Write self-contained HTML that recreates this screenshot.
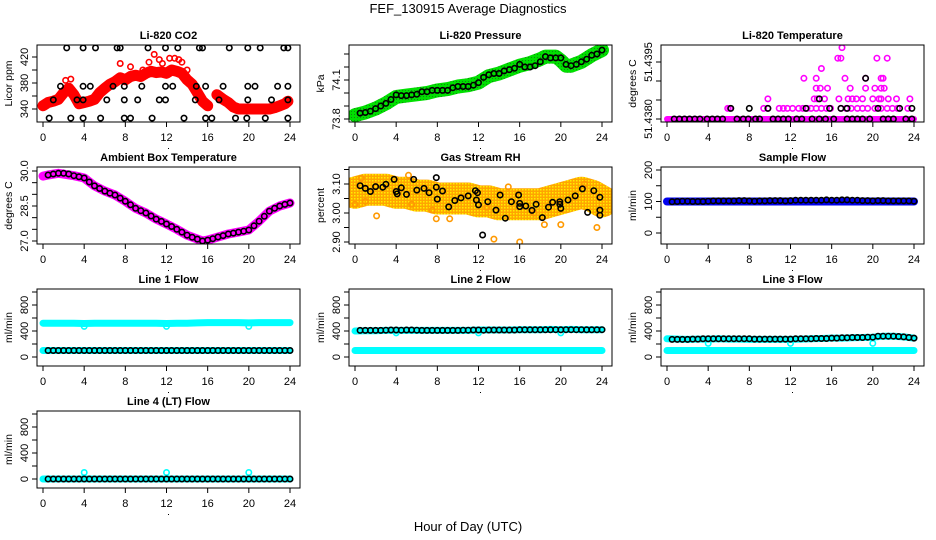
<!DOCTYPE html>
<html><head><meta charset="utf-8">
<style>
html,body{margin:0;padding:0;background:#fff;}
svg{display:block;font-family:"Liberation Sans",sans-serif;}
</style></head>
<body>
<svg id="chart" width="936" height="540" viewBox="0 0 936 540">
<defs>
<pattern id="rhdots" width="3" height="3" patternUnits="userSpaceOnUse"><rect width="3" height="3" fill="#ffa500"/><rect width="1.5" height="1.5" fill="#ffee00"/></pattern>
<pattern id="grdots" width="3" height="3" patternUnits="userSpaceOnUse"><rect width="3" height="3" fill="#00e000"/><rect width="1" height="1" fill="#118811"/></pattern>
</defs>
<text x="468" y="13" text-anchor="middle" font-size="13">FEF_130915  Average Diagnostics</text>
<text x="468" y="531" text-anchor="middle" font-size="13">Hour of Day (UTC)</text>
</svg>
<script>
// ---------- data ----------
const xTicks = [0,4,8,12,16,20,24];
const halfHourTimes = [0.5,1,1.5,2,2.5,3,3.5,4,4.5,5,5.5,6,6.5,7,7.5,8,8.5,9,9.5,10,10.5,11,11.5,12,12.5,13,13.5,14,14.5,15,15.5,16,16.5,17,17.5,18,18.5,19,19.5,20,20.5,21,21.5,22,22.5,23,23.5,24];
const hourTimes = [0,1,2,3,4,5,6,7,8,9,10,11,12,13,14,15,16,17,18,19,20,21,22,23,24];

// CO2
const co2RedTimes = [0,0.5,1,1.5,2,2.5,3,3.5,4,4.5,5,5.5,6,6.5,7,7.5,8,8.5,9,9.5,10,10.5,11,11.5,12,12.5,13,13.5,14,14.5,15,15.5,16,null,16.9,17.5,18,18.5,19,19.5,20,20.5,21,21.5,22,22.5,23,23.5,23.8];
const co2RedValues = [345,350,352,355,365,372,362,348,350,352,355,365,372,378,382,388,385,390,392,390,395,398,396,397,395,400,398,395,385,378,365,352,345,null,362,355,350,343,340,340,340,340,340,340,340,342,345,348,352];
const co2OutTimes = [7.5,8.5,10.3,10.8,11.3,11.6,12.3,12.8,13.2,13.5,14.0,9.7,2.7,2.2];
const co2OutValues = [410,405,412,424,416,410,418,418,416,412,400,400,386,384];
const co2BlackTimes = [0.6,2.7,3.9,5.6,7.9,8.5,10.6,13.7,15.8,16.4,18.7,19.8,21.6,23.8, 1.0,3.3,3.9,6.2,7.9,9.2,11.3,11.9,14.8,17.1,19.9,22.2,23.8, 1.7,3.9,4.6,6.8,7.9,9.6,11.9,12.6,14.9,15.8,17.5,19.9,20.6,22.8,23.8, 2.3,3.9,5.1,7.2,7.5,10.2,11.9,13.1,15.2,15.5,18.1,19.9,21.1,23.4,23.8];
const co2BlackValues = [326,326,326,326,326,326,326,326,326,326,326,326,326,326, 354,354,354,354,354,354,354,354,354,354,354,354,354, 375,375,375,375,375,375,375,375,375,375,375,375,375,375,375, 434,434,434,434,434,434,434,434,434,434,434,434,434,434,434];

// Pressure
const presTimes = [0,1,2,3,4,5,6,7,8,9,10,11,12,13,14,15,16,17,18,18.5,19,19.5,20,20.5,21,22,23,24];
const presValues = [73.83,73.85,73.88,73.92,73.97,73.98,73.99,74.00,74.02,74.03,74.05,74.06,74.08,74.13,74.15,74.18,74.21,74.23,74.26,74.28,74.28,74.28,74.25,74.21,74.21,74.24,74.29,74.33];
const presBlack = [73.845,73.85,73.86,73.88,73.90,73.92,73.95,73.985,73.98,73.98,73.985,73.99,74.01,74.01,74.02,74.02,74.02,74.02,74.04,74.05,74.05,74.05,74.06,74.08,74.12,74.14,74.15,74.15,74.17,74.18,74.19,74.22,74.20,74.20,74.21,74.24,74.28,74.27,74.27,74.27,74.22,74.21,74.22,74.24,74.26,74.29,74.30,74.33];

// Li-820 temperature
const tempMagTimes = [5.9,6.1,9.4,9.8,10.9,11.3,11.7,12.2,12.8,13.2,13.6,14.0,14.5,15.0,15.5,15.9,16.9,17.4,17.9,18.5,19.0,19.5,20.2,20.8,21.4,21.9,22.4,23.4, 9.8,14.3,14.6,15.3,16.7,17.6,18.0,18.4,19.0,20.0,20.6,20.8,21.5,22.3,23.6, 14.5,14.9,15.6,17.8,19.3,20.2,20.8,21.1, 13.3,14.5,17.3,19.3,20.8,21.0, 15.0, 16.6,16.9,20.4,21.4, 17.0];
const tempMagValues = [51.43828,51.43828,51.43828,51.43828,51.43828,51.43828,51.43828,51.43828,51.43828,51.43828,51.43828,51.43828,51.43828,51.43828,51.43828,51.43828,51.43828,51.43828,51.43828,51.43828,51.43828,51.43828,51.43828,51.43828,51.43828,51.43828,51.43828,51.43828, 51.43853,51.43853,51.43853,51.43853,51.43853,51.43853,51.43853,51.43853,51.43853,51.43853,51.43853,51.43853,51.43853,51.43853,51.43853, 51.43881,51.43881,51.43881,51.43881,51.43881,51.43881,51.43881,51.43881, 51.43907,51.43907,51.43907,51.43907,51.43907,51.43907, 51.43933, 51.43960,51.43960,51.43960,51.43960, 51.43988];
const tempBaseTimes = [0,24];
const tempBaseValues = [51.4380,51.4380];
const tempBlackTimes = [0.7,1.2,1.7,2.2,2.7,3.2,3.9,4.4,4.9,5.4,6.8,7.4,7.9,8.6,9.0,10.3,10.8,11.3,11.8,12.6,13.1,14.1,14.8,15.4,16.2,17.5,18.0,18.5,19.0,19.7,21.0,21.5,22.0,23.2,23.8, 6.2,8.0,9.8,13.5,15.8,16.9,17.5,20.5,22.6,23.8, 14.8, 19.3];
const tempBlackValues = [51.4380,51.4380,51.4380,51.4380,51.4380,51.4380,51.4380,51.4380,51.4380,51.4380,51.4380,51.4380,51.4380,51.4380,51.4380,51.4380,51.4380,51.4380,51.4380,51.4380,51.4380,51.4380,51.4380,51.4380,51.4380,51.4380,51.4380,51.4380,51.4380,51.4380,51.4380,51.4380,51.4380,51.4380,51.4380, 51.43828,51.43828,51.43828,51.43828,51.43828,51.43828,51.43828,51.43828,51.43828,51.43828, 51.43853, 51.43907];

// Ambient box temperature
const ambTimes = [0,0.5,1.5,3,4,5,6,7,8,9,10,11,12,13,14,15,15.5,16,17,18,19,20,21,22,23,24];
const ambValues = [29.78,29.83,29.9,29.8,29.7,29.36,29.14,28.97,28.7,28.4,28.2,27.94,27.73,27.5,27.25,27.08,27.0,27.04,27.17,27.3,27.38,27.47,27.85,28.28,28.5,28.63];
const ambBlack = [29.83,29.87,29.9,29.9,29.87,29.8,29.75,29.7,29.53,29.36,29.25,29.14,29.05,28.97,28.84,28.7,28.55,28.4,28.3,28.2,28.07,27.94,27.84,27.73,27.62,27.5,27.38,27.25,27.16,27.08,27.0,27.04,27.1,27.17,27.23,27.3,27.34,27.38,27.42,27.47,27.65,27.85,28.06,28.28,28.4,28.5,28.57,28.63];

// Gas stream RH
const rhBandTimes = [0,1,2,3,4,5,6,7,8,9,10,11,12,13,14,15,16,17,18,19,20,21,22,23,24];
const rhBandValues = [3.07,3.08,3.08,3.08,3.07,3.07,3.06,3.06,3.05,3.05,3.05,3.05,3.04,3.04,3.03,3.03,3.03,3.03,3.03,3.04,3.05,3.06,3.07,3.06,3.04];
const rhOutTimes = [0,0.6,1.0,2.1,5.2,5.5,7.5,7.9,9.2,12.8,13.5,14.9,16.0,17.4,18.4,20.0,23.5,22.3];
const rhOutValues = [3.03,3.12,3.04,2.99,3.13,3.03,3.01,2.98,2.98,3.02,2.91,3.09,2.90,3.00,2.96,2.96,2.95,3.10];
const rhBlackTimes = [0.5,1,1.5,2,2.7,3,3.8,4,4.1,4.5,5,5.7,6,6.7,7.2,7.9,8,7.9,8.5,9.1,9.7,10.3,11,11.7,11.9,11.8,12,12.4,12.9,13.7,14.1,14.6,15.2,15.9,16,16,16.6,17.2,17.6,18.2,18.8,19.2,19.9,19.9,20,20.7,21.4,22.1,22.6,23.2,23.8,23.8,23.8];
const rhBlackValues = [3.094,3.085,3.074,3.091,3.089,3.099,3.116,3.074,3.066,3.087,3.064,3.116,3.079,3.085,3.070,3.089,3.048,3.122,3.076,3.021,3.043,3.052,3.059,3.077,3.070,3.045,3.028,2.924,3.039,3.010,3.062,2.982,3.039,3.062,3.022,3.033,3.024,3.009,3.030,2.984,3.020,3.037,3.039,3.030,3.016,3.045,3.059,3.083,3.002,3.077,3.054,3.010,2.992];

// Sample flow
const sampleBandTimes = [0,24];
const sampleBandValues = [100,100];
const sampleBlack = [99,100,101,101,100,100,100,101,102,102,102,102,102,103,103,102,101,102,102,103,103,103,102,103,104,104,104,104,104,104,105,104,104,105,105,104,104,103,103,102,103,103,102,102,102,102,102,101];

// Line flows
const line1Cyan = [520,520,520,520,515,520,520,520,520,520,520,520,515,520,520,525,530,530,530,530,525,530,530,530,530];
const line1Low = [100,100,100,100,100,100,100,100,100,100,100,100,100,100,100,100,100,100,100,100,100,100,100,100,100];
const line1Black = [100,100,100,100,100,100,100,100,100,100,100,100,100,100,100,100,100,100,100,100,100,100,100,100,100,100,100,100,100,100,100,100,100,100,100,100,100,100,100,100,100,100,100,100,100,100,100,100];
const line2Cyan = [400,405,405,410,410,410,410,410,410,410,410,410,415,415,415,415,420,420,420,425,420,425,420,420,420];
const line2Low = [100,100,100,100,100,100,100,100,100,100,100,100,100,100,100,100,100,100,100,100,100,100,100,100,100];
const line2Black = [410,410,410,410,410,412,415,415,412,415,415,412,410,410,410,410,410,410,410,410,412,412,415,415,412,415,415,415,415,415,415,418,418,418,418,418,418,418,420,418,420,420,420,420,418,418,418,420];
const line3Cyan = [280,275,270,275,275,280,275,275,270,270,270,270,270,275,280,285,290,290,295,300,305,320,320,310,290];
const line3Low = [100,100,100,100,100,100,100,100,100,100,100,100,100,100,100,100,100,100,100,100,100,100,100,100,100];
const line3Black = [270,270,270,270,275,275,280,280,280,280,280,280,280,280,280,280,275,275,275,275,275,275,275,275,280,280,280,280,285,285,285,290,290,295,295,300,300,300,305,305,320,320,320,320,315,310,300,290];
const line4Cyan = [0,0,0,0,0,0,0,0,0,0,0,0,0,0,0,0,0,0,0,0,0,0,0,0,0];
const line4Black = [0,0,0,0,0,0,0,0,0,0,0,0,0,0,0,0,0,0,0,0,0,0,0,0,0,0,0,0,0,0,0,0,0,0,0,0,0,0,0,0,0,0,0,0,0,0,0,0];
const dipTimes = [4,12,20];
const line1Dips = [470,470,470];
const line2Dips = [370,370,370];
const line3Dips = [210,210,210];
const line4Spikes = [100,100,100];

// ---------- drawing ----------
const NS = "http://www.w3.org/2000/svg";
const svg = document.getElementById("chart");
const colLeft = [37,349,661], rowTop = [45,167,289,411], W = 263, H = 77;

function mk(tag, attrs, parent){
  const e = document.createElementNS(NS, tag);
  for (const k in attrs) e.setAttribute(k, attrs[k]);
  (parent||svg).appendChild(e);
  return e;
}

function panel(col,row,title,ytitle,yFn,yTicks,yLabels,name){
  const L = colLeft[col], T = rowTop[row];
  const g = mk("g",{});
  
  
  const xs = t => L + 6 + t*(247/24);
  const p = {g, xs, ys: v => yFn(v, T), L, T};
  const t = mk("text",{x:L+W/2, y:T-6, "text-anchor":"middle","font-size":"11","font-weight":"bold"}, g);
  t.textContent = title;
  
  
  const clip = mk("clipPath",{id:"clip-"+name}, g);
  mk("rect",{x:L,y:T,width:W,height:H}, clip);
  p.plot = mk("g",{"clip-path":`url(#clip-${name})`}, g);
  
  
  const box = mk("rect",{x:L,y:T,width:W,height:H,fill:"none",stroke:"#000","stroke-width":"1"}, g);
  
  
  const xa = mk("g",{}, g);
  
  
  xTicks.forEach(v=>{
    const x = xs(v);
    mk("line",{x1:x,x2:x,y1:T+H,y2:T+H+5,stroke:"#000"}, xa);
    const tl = mk("text",{x:x,y:T+H+19,"text-anchor":"middle","font-size":"11"}, xa);
    tl.textContent = v;
    
    
  });
  mk("rect",{x:L+W/2-0.5,y:T+H+26,width:1,height:1,fill:"#000"}, xa);
  const ya = mk("g",{}, g);
  
  
  yTicks.forEach(v=>{
    const y = p.ys(v);
    mk("line",{x1:L-5,x2:L,y1:y,y2:y,stroke:"#000"}, ya);
  });
  yLabels.forEach(v=>{
    const y = p.ys(v[0]);
    const tl = mk("text",{x:0,y:0,"text-anchor":"middle","font-size":"11",transform:`translate(${L-9},${y}) rotate(-90)`}, ya);
    tl.textContent = v[1];
    
    
  });
  const yt = mk("text",{x:0,y:0,"text-anchor":"middle","font-size":"10.5",transform:`translate(${L-25},${T+H/2}) rotate(-90)`}, g);
  yt.textContent = ytitle;
  
  
  return p;
}

function band(p, times, vals, color, width, label){
  let d = "", pen = false;
  times.forEach((t,i)=>{
    if (t===null || vals[i]===null){ pen=false; return; }
    d += (pen?"L":"M") + p.xs(t).toFixed(1) + "," + p.ys(vals[i]).toFixed(1) + " ";
    pen = true;
  });
  const e = mk("path",{d:d,fill:"none",stroke:color,"stroke-width":width,"stroke-linecap":"round","stroke-linejoin":"round"}, p.plot);
  
  
  return e;
}

function points(p, times, vals, color, label, r){
  times.forEach((t,i)=>{
    if (t===null || vals[i]===null) return;
    const c = mk("circle",{cx:p.xs(t).toFixed(1), cy:p.ys(vals[i]).toFixed(1), r:r||2.7, fill:"none", stroke:color, "stroke-width":"1.6"}, p.plot);
    
    
  });
}

// CO2
let p = panel(0,0,"Li-820 CO2","Licor ppm",(v,T)=>T+64-(v-340)*0.65,[340,360,380,400,420],[[340,"340"],[380,"380"],[420,"420"]],"co2");
band(p, co2RedTimes, co2RedValues, "#ff0000", 11, "co2-band");
points(p, co2RedTimes, co2RedValues, "#ff0000", "co2-point");
points(p, co2OutTimes, co2OutValues, "#ff0000", "co2-outlier");
points(p, co2BlackTimes, co2BlackValues, "#000", "co2-average-point");

// Pressure
p = panel(1,0,"Li-820 Pressure","kPa",(v,T)=>T+74-(v-73.8)*130,[73.8,73.9,74.0,74.1,74.2,74.3],[[73.8,"73.8"],[74.1,"74.1"]],"pressure");
band(p, presTimes, presValues, "url(#grdots)", 14, "pressure-band");
points(p, halfHourTimes, presBlack, "#000", "pressure-average-point");

// Li-820 temperature
p = panel(2,0,"Li-820 Temperature","degrees C",(v,T)=>T+74-(v-51.438)*38000,[51.438,51.4385,51.439,51.4395],[[51.438,"51.4380"],[51.4395,"51.4395"]],"li820-temp");
band(p, tempBaseTimes, tempBaseValues, "#ff00ff", 6, "li820-temp-band");
points(p, tempMagTimes, tempMagValues, "#ff00ff", "li820-temp-point");
points(p, tempBlackTimes, tempBlackValues, "#000", "li820-temp-average-point");

// Ambient
p = panel(0,1,"Ambient Box Temperature","degrees C",(v,T)=>T+4+(30-v)*23.33,[27,27.5,28,28.5,29,29.5,30],[[27,"27.0"],[28.5,"28.5"],[30,"30.0"]],"ambient");
band(p, ambTimes, ambValues, "#ff00ff", 9, "ambient-band");
points(p, halfHourTimes, ambBlack, "#000", "ambient-average-point");

// RH
p = panel(1,1,"Gas Stream RH","percent",(v,T)=>T+17+(3.10-v)*290,[2.90,2.95,3.00,3.05,3.10,3.15],[[2.90,"2.90"],[3.00,"3.00"],[3.10,"3.10"]],"rh");
band(p, rhBandTimes, rhBandValues, "url(#rhdots)", 32, "rh-band");
points(p, rhOutTimes, rhOutValues, "#ff9900", "rh-outlier");
points(p, rhBlackTimes, rhBlackValues, "#000", "rh-average-point");

// Sample flow
p = panel(2,1,"Sample Flow","ml/min",(v,T)=>T+66-v*0.315,[0,50,100,150,200],[[0,"0"],[100,"100"],[200,"200"]],"sample-flow");
band(p, sampleBandTimes, sampleBandValues, "#0000ee", 8, "sample-flow-band");
points(p, halfHourTimes, sampleBlack, "#000", "sample-flow-average-point");

function flowPanel(col,row,title,name){
  return panel(col,row,title,"ml/min",(v,T)=>T+H-9-v*0.065,[0,200,400,600,800,1000],[[0,"0"],[400,"400"],[800,"800"]],name);
}
p = flowPanel(0,2,"Line 1 Flow","line1-flow");
band(p, hourTimes, line1Cyan, "#00ffff", 7, "line1-cyan-band");
band(p, hourTimes, line1Low, "#00ffff", 7, "line1-cyan-low-band");
points(p, dipTimes, line1Dips, "#00ffff", "line1-dip");
points(p, halfHourTimes, line1Black, "#000", "line1-average-point");

p = flowPanel(1,2,"Line 2 Flow","line2-flow");
band(p, hourTimes, line2Cyan, "#00ffff", 7, "line2-cyan-band");
band(p, hourTimes, line2Low, "#00ffff", 7, "line2-cyan-low-band");
points(p, dipTimes, line2Dips, "#00ffff", "line2-dip");
points(p, halfHourTimes, line2Black, "#000", "line2-average-point");

p = flowPanel(2,2,"Line 3 Flow","line3-flow");
band(p, hourTimes, line3Cyan, "#00ffff", 7, "line3-cyan-band");
band(p, hourTimes, line3Low, "#00ffff", 7, "line3-cyan-low-band");
points(p, dipTimes, line3Dips, "#00ffff", "line3-dip");
points(p, halfHourTimes, line3Black, "#000", "line3-average-point");

p = flowPanel(0,3,"Line 4 (LT) Flow","line4-flow");
band(p, hourTimes, line4Cyan, "#00ffff", 7, "line4-cyan-band");
points(p, dipTimes, line4Spikes, "#00ffff", "line4-spike");
points(p, halfHourTimes, line4Black, "#000", "line4-average-point");
</script>
</body></html>
